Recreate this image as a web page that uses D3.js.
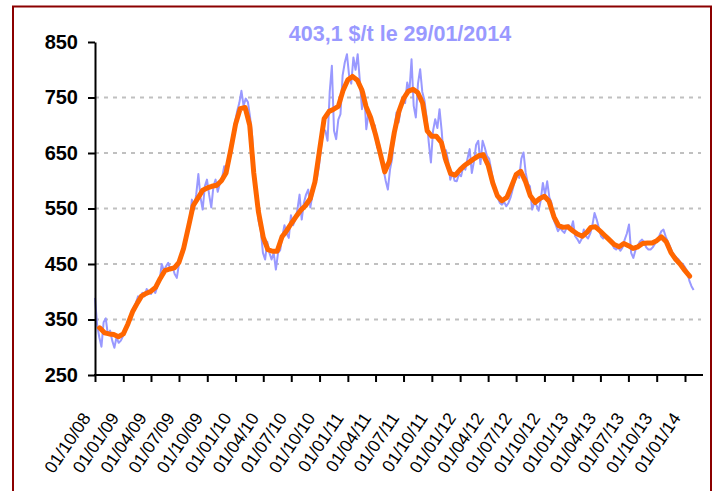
<!DOCTYPE html>
<html>
<head>
<meta charset="utf-8">
<script src="https://cdn.jsdelivr.net/npm/d3@7"></script>
<style>
  body { margin: 0; background: #fff; }
  svg { display: block; font-family: "Liberation Sans", Arial, sans-serif; }
</style>
</head>
<body>
<div id="chart"></div>
<script>
// daily price (sampled weekly, from 01/10/2008 to 29/01/2014), $/t
const priceStart = "2008-10-01";
const priceValues = [
  389,340,318,301,345,352,322,330,312,299,
  318,308,312,320,326,338,352,364,372,380,
  392,386,398,392,405,398,396,404,398,410,
  420,450,438,446,452,440,445,432,425,450,
  468,470,488,505,530,566,548,575,612,570,
  548,590,602,575,552,590,602,580,596,605,
  626,612,640,664,672,705,725,740,762,735,
  748,742,715,680,600,570,527,510,470,458,
  490,470,458,470,440,470,475,500,520,505,
  497,538,520,530,548,575,530,560,575,584,
  552,575,600,602,626,660,693,690,672,760,
  807,690,675,710,720,790,813,828,790,775,
  822,800,828,780,729,760,693,722,715,693,
  700,660,665,639,620,600,584,620,640,690,
  723,705,730,745,740,777,760,819,735,714,
  775,801,760,745,714,669,633,690,711,695,
  729,690,639,655,636,602,615,600,599,612,
  608,625,620,640,657,614,635,665,672,630,
  672,660,645,640,620,598,580,569,560,557,
  562,554,560,570,585,600,615,605,640,651,
  615,595,590,548,560,556,546,565,596,575,
  599,570,560,530,520,509,515,510,506,515,
  520,512,527,500,495,488,495,512,500,496,
  505,520,542,530,515,500,496,503,500,496,
  490,479,476,480,474,480,494,505,521,470,
  461,475,482,490,494,490,480,476,476,480,
  486,494,500,509,512,500,490,482,472,465,
  462,458,452,450,444,437,420,410,403.1
];

// moving average, on the 16th and the 1st of each month from 16/10/2008
const avgValues = [
  335,326,324,323,319,324,342,365,380,392,
  397,401,408,424,438,441,443,453,478,517,
  555,569,583,587,590,592,600,614,655,702,
  730,732,700,615,545,498,476,473,473,499,
  510,523,535,547,555,568,598,655,712,725,
  729,734,762,782,788,781,763,734,714,683,
  650,616,635,687,725,748,761,765,759,740,
  690,680,680,669,636,613,610,620,628,634,
  640,645,647,628,596,573,564,570,590,611,
  617,598,573,561,568,572,563,535,519,516,
  517,510,504,500,507,516,517,509,501,493,
  485,481,487,483,478,481,487,488,488,492,
  499,490,471,459,450,438,428
];

const yTicks = [250, 350, 450, 550, 650, 750, 850];
const xTickLabels = [
  "01/10/08","01/01/09","01/04/09","01/07/09","01/10/09","01/01/10","01/04/10",
  "01/07/10","01/10/10","01/01/11","01/04/11","01/07/11","01/10/11","01/01/12",
  "01/04/12","01/07/12","01/10/12","01/01/13","01/04/13","01/07/13","01/10/13","01/01/14"
];
const titleText = "403,1 $/t le 29/01/2014";

const W = 718, H = 491;
const plot = { left: 95, right: 685, top: 42, bottom: 375 };

const parseDay = d3.timeParse("%Y-%m-%d");
const parseTick = d3.timeParse("%d/%m/%y");
const t0 = parseDay(priceStart);

const priceData = priceValues.map((v, i) => ({ date: d3.timeDay.offset(t0, 7 * i), value: v }));
const avgData = avgValues.map((v, i) => {
  const k = i + 1;
  const m = d3.timeMonth.offset(t0, Math.floor(k / 2));
  return { date: d3.timeDay.offset(m, k % 2 ? 15 : 0), value: v };
});
const tickDates = xTickLabels.map(parseTick);

const x = d3.scaleTime()
  .domain([tickDates[0], tickDates[tickDates.length - 1]])
  .range([plot.left, plot.right]);
const y = d3.scaleLinear().domain([250, 850]).range([plot.bottom, plot.top]);

const svg = d3.select("#chart").append("svg")
  .attr("width", W).attr("height", H);

svg.append("rect").attr("width", W).attr("height", H).attr("fill", "#fff");

// frame
svg.append("rect")
  .attr("x", 13).attr("y", 6.5)
  .attr("width", 698).attr("height", 520)
  .attr("fill", "none")
  .attr("stroke", "#8b0000")
  .attr("stroke-width", 2);

const axisEnd = plot.right + 18;

// grid
svg.append("g")
  .selectAll("line")
  .data(yTicks.filter(d => d > 250 && d < 850))
  .join("line")
  .attr("x1", plot.left).attr("x2", axisEnd - 2)
  .attr("y1", d => y(d)).attr("y2", d => y(d))
  .attr("stroke", "#c0c0c0")
  .attr("stroke-width", 2)
  .attr("stroke-dasharray", "4,5");

// series
const line = d3.line().x(d => x(d.date)).y(d => y(d.value));

svg.append("path")
  .datum(priceData)
  .attr("d", line)
  .attr("fill", "none")
  .attr("stroke", "#9999ff")
  .attr("stroke-width", 2)
  .attr("stroke-linejoin", "round");

svg.append("path")
  .datum(avgData)
  .attr("d", line)
  .attr("fill", "none")
  .attr("stroke", "#ff6600")
  .attr("stroke-width", 5)
  .attr("stroke-linejoin", "round")
  .attr("stroke-linecap", "round");

// y axis
const yAxis = svg.append("g")
  .attr("transform", `translate(${plot.left},0)`)
  .call(d3.axisLeft(y).tickValues(yTicks).tickSize(7).tickSizeOuter(0).tickPadding(10));
yAxis.select(".domain").attr("stroke", "#000").attr("stroke-width", 2);
yAxis.selectAll(".tick line").attr("stroke", "#000").attr("stroke-width", 2);
yAxis.selectAll("text")
  .attr("fill", "#000")
  .style("font-family", "Liberation Sans, Arial, sans-serif")
  .style("font-size", "20px")
  .style("font-weight", "bold");

// x axis
const xAxis = svg.append("g")
  .attr("transform", `translate(0,${plot.bottom})`)
  .call(d3.axisBottom(x).tickValues(tickDates).tickFormat((d, i) => xTickLabels[i]).tickSize(7).tickSizeOuter(0));
xAxis.select(".domain").remove();
xAxis.append("line")
  .attr("x1", plot.left - 1).attr("x2", axisEnd)
  .attr("stroke", "#000").attr("stroke-width", 2);
xAxis.selectAll(".tick line").attr("stroke", "#000").attr("stroke-width", 2);
xAxis.selectAll("text")
  .attr("x", 0).attr("y", 0).attr("dy", 0)
  .attr("transform", "translate(-4,43) rotate(-56)")
  .attr("text-anchor", "end")
  .attr("fill", "#000")
  .style("font-family", "Liberation Sans, Arial, sans-serif")
  .style("font-size", "17.5px");

// title
svg.append("text")
  .attr("x", (plot.left + axisEnd) / 2 + 1)
  .attr("y", 41)
  .attr("text-anchor", "middle")
  .attr("fill", "#9999ff")
  .style("font-size", "21.5px")
  .style("font-weight", "bold")
  .text(titleText);
</script>
</body>
</html>
